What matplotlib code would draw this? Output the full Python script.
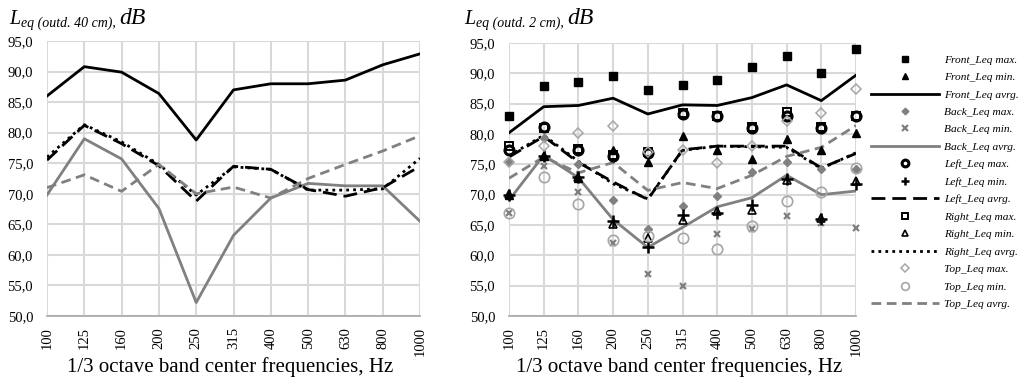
import matplotlib
matplotlib.use("Agg")
import matplotlib.pyplot as plt
from matplotlib.ticker import FuncFormatter, MultipleLocator

plt.rcParams['font.family'] = ['Liberation Serif', 'DejaVu Serif']

freqs = ["100", "125", "160", "200", "250", "315", "400", "500", "630", "800", "1000"]

# Left chart (outdoor 40 cm) averages
l_front_avg = [86.0, 90.8, 89.9, 86.4, 78.8, 87.0, 88.0, 88.0, 88.6, 91.1, 92.9]
l_back_avg = [69.8, 79.0, 75.7, 67.6, 52.2, 63.2, 69.3, 71.7, 71.3, 71.3, 65.5]
l_left_avg = [75.5, 81.2, 78.2, 74.6, 68.8, 74.5, 74.0, 70.7, 69.6, 71.0, 74.5]
l_right_avg = [76.0, 81.3, 78.5, 74.8, 69.8, 74.4, 74.0, 70.6, 70.6, 70.8, 75.8]
l_top_avg = [71.0, 73.1, 70.4, 74.8, 70.0, 71.1, 69.3, 72.5, 74.8, 77.0, 79.5]

# Right chart (outdoor 2 cm)
front_max = [83.0, 87.9, 88.6, 89.6, 87.3, 88.1, 88.9, 91.1, 92.8, 90.0, 94.0]
front_min = [70.0, 76.3, 72.8, 77.3, 75.4, 79.7, 77.4, 75.8, 79.2, 77.3, 80.2]
front_avg = [80.2, 84.5, 84.7, 85.9, 83.3, 84.8, 84.7, 86.0, 88.1, 85.5, 89.7]
back_max = [75.4, 79.3, 75.0, 69.1, 64.3, 68.2, 69.7, 73.8, 75.4, 74.2, 74.2]
back_min = [66.9, 74.7, 70.5, 62.0, 57.0, 54.9, 63.5, 64.3, 66.5, 65.4, 64.5]
back_avg = [69.1, 76.5, 72.8, 65.9, 61.3, 64.6, 68.0, 69.5, 73.2, 70.0, 70.6]
left_max = [77.3, 81.1, 77.4, 76.3, 76.8, 83.3, 82.9, 81.0, 83.0, 81.0, 82.9]
left_min = [70.0, 76.3, 72.9, 65.7, 61.3, 66.6, 67.0, 68.3, 72.6, 66.0, 71.8]
left_avg = [76.2, 79.6, 75.3, 72.1, 69.2, 77.4, 78.0, 78.0, 78.0, 74.4, 76.8]
right_max = [78.0, 81.0, 77.5, 76.5, 77.0, 83.5, 83.0, 81.1, 83.7, 81.1, 83.0]
right_min = [70.1, 76.4, 72.9, 65.1, 62.8, 65.8, 67.3, 67.5, 72.4, 66.1, 72.2]
right_avg = [76.4, 79.8, 75.5, 71.8, 69.3, 77.3, 78.0, 77.9, 77.8, 74.3, 76.9]
top_max = [75.4, 78.1, 80.2, 81.4, 77.0, 77.3, 75.2, 78.1, 82.1, 83.5, 87.4]
top_min = [66.9, 72.9, 68.5, 62.5, 63.2, 62.9, 61.1, 64.8, 68.9, 70.4, 74.4]
top_avg = [72.7, 76.2, 73.6, 75.3, 70.7, 72.0, 71.0, 73.2, 76.3, 77.8, 81.4]

BLACK = '#000000'
GRAY = '#808080'
LGRAY = '#a6a6a6'
GRID = '#d9d9d9'

fig = plt.figure(figsize=(10.26, 3.84), dpi=100)
ax1 = fig.add_axes([47/1026, 1-316/384, (420-47)/1026, (316-41)/384])
ax2 = fig.add_axes([509/1026, 1-316/384, (856-509)/1026, (316-43)/384])

x = list(range(len(freqs)))

def style(ax, h):
    ax.set_xlim(0, len(freqs)-1)
    ax.set_ylim(50, 95)
    ax.yaxis.set_major_locator(MultipleLocator(5))
    ax.yaxis.set_major_formatter(FuncFormatter(lambda v, p: f"{v:.1f}".replace('.', ',')))
    ax.set_xticks(x)
    ax.set_xticklabels(freqs, rotation=90)
    ax.grid(True, color=GRID, linewidth=1.5, zorder=0)
    ax.set_axisbelow(True)
    for s in ['top', 'right', 'left']:
        ax.spines[s].set_visible(False)
    ax.spines['bottom'].set_color('#a6a6a6')
    ax.spines['bottom'].set_linewidth(1.2)
    ax.tick_params(axis='y', length=0, labelsize=10.5, pad=10)
    ax.tick_params(axis='x', length=0, labelsize=10.5, pad=8)
    ax.set_xlabel("1/3 octave band center frequencies, Hz", fontsize=15)
    ax.xaxis.set_label_coords(0.49, -41/h)

style(ax1, 275)
style(ax2, 273)

lw = 2.0
dash_left = (0, (5, 2.5))
dot_right = (0, (1, 1.5))
dash_top = (0, (3.5, 2))

ax1.plot(x, l_front_avg, color=BLACK, lw=lw, zorder=3)
ax1.plot(x, l_back_avg, color=GRAY, lw=lw, zorder=3)
ax1.plot(x, l_left_avg, color=BLACK, lw=lw, ls=dash_left, zorder=3)
ax1.plot(x, l_right_avg, color=BLACK, lw=lw, ls=dot_right, zorder=3)
ax1.plot(x, l_top_avg, color=GRAY, lw=lw, ls=dash_top, zorder=3)

handles = []
def mk(ax, y, label, **kw):
    h, = ax.plot(x, y, ls='none', label=label, zorder=4, clip_on=False, **kw)
    handles.append(h)
def ln(ax, y, label, **kw):
    h, = ax.plot(x, y, label=label, zorder=3, **kw)
    handles.append(h)

mk(ax2, front_max, "Front_Leq max.", marker='s', ms=5.5, color=BLACK)
mk(ax2, front_min, "Front_Leq min.", marker='^', ms=6, color=BLACK)
ln(ax2, front_avg, "Front_Leq avrg.", color=BLACK, lw=lw)
mk(ax2, back_max, "Back_Leq max.", marker='D', ms=4.5, color=GRAY)
mk(ax2, back_min, "Back_Leq min.", marker='x', ms=5, mew=1.6, color=GRAY)
ln(ax2, back_avg, "Back_Leq avrg.", color=GRAY, lw=lw)
mk(ax2, left_max, "Left_Leq max.", marker='o', ms=6.5, mfc='none', mew=2.2, color=BLACK)
mk(ax2, left_min, "Left_Leq min.", marker='+', ms=8, mew=1.8, color=BLACK)
ln(ax2, left_avg, "Left_Leq avrg.", color=BLACK, lw=lw, ls=dash_left)
mk(ax2, right_max, "Right_Leq max.", marker='s', ms=5.5, mfc='none', mew=1.4, color=BLACK)
mk(ax2, right_min, "Right_Leq min.", marker='^', ms=6, mfc='none', mew=1.2, color=BLACK)
ln(ax2, right_avg, "Right_Leq avrg.", color=BLACK, lw=lw, ls=dot_right)
mk(ax2, top_max, "Top_Leq max.", marker='D', ms=5, mfc='none', mew=1.1, color=LGRAY)
mk(ax2, top_min, "Top_Leq min.", marker='o', ms=7.5, mfc='none', mew=1.2, color=LGRAY)
ln(ax2, top_avg, "Top_Leq avrg.", color=GRAY, lw=lw, ls=dash_top)

leg = fig.legend(handles=handles, loc='upper left', bbox_to_anchor=(866/1026, 1-50/384),
                 frameon=False, handlelength=6.0, handletextpad=0.45,
                 labelspacing=0.66, markerscale=0.75, numpoints=1, borderaxespad=0,
                 prop={'family': 'Liberation Serif', 'style': 'italic', 'size': 8.2})

# Titles built from pieces: big italic L, small italic subscript, italic dB
fig.canvas.draw()
renderer = fig.canvas.get_renderer()

def title(x0, y_base, sub):
    t1 = fig.text(x0/1026, 1-y_base/384, "L", fontsize=14.5, style='italic', va='baseline')
    bb = t1.get_window_extent(renderer)
    t2 = fig.text(bb.x1/1026 + 1/1026, 1-(y_base+3)/384, sub, fontsize=10, style='italic', va='baseline')
    bb2 = t2.get_window_extent(renderer)
    fig.text(bb2.x1/1026 + 3/1026, 1-y_base/384, "dB", fontsize=17, style='italic', va='baseline')

title(9, 24, "eq (outd. 40 cm),")
title(464, 24, "eq (outd. 2 cm),")

fig.savefig("out.png", dpi=100)
